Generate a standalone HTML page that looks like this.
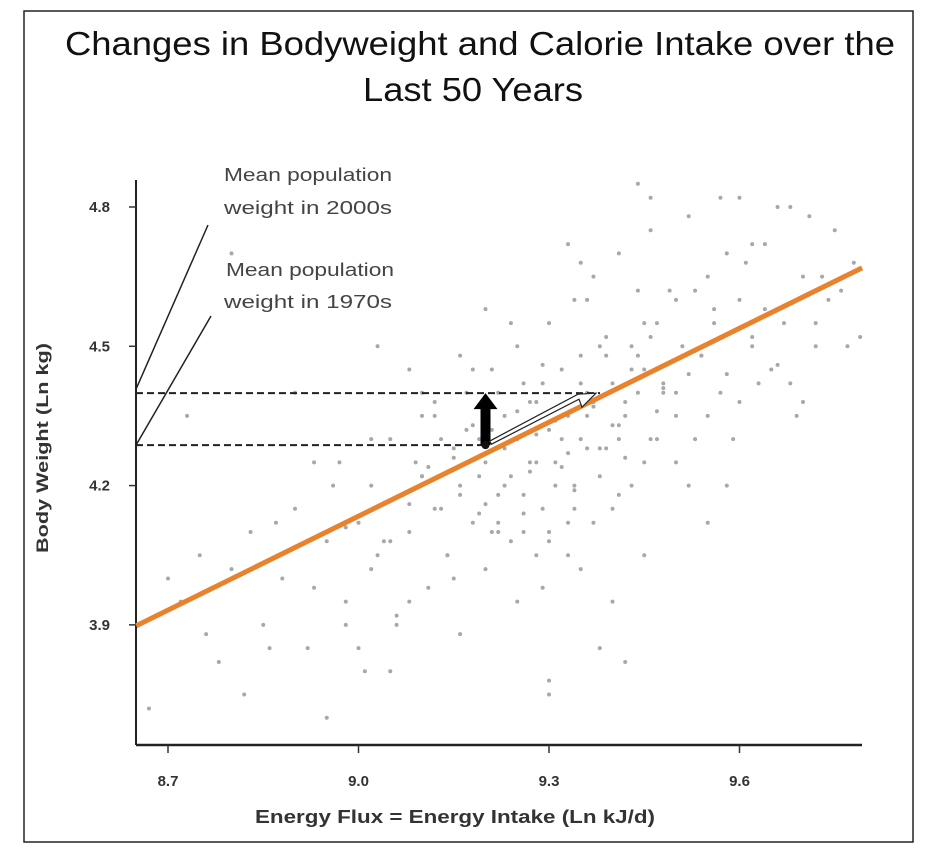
<!DOCTYPE html>
<html><head><meta charset="utf-8">
<style>
html,body{margin:0;padding:0;background:#fff;}
svg{display:block;}
text{font-family:"Liberation Sans",sans-serif;}
</style></head>
<body>
<svg id="chart" width="931" height="856" viewBox="0 0 931 856">
  <rect x="24" y="11" width="889" height="831" fill="#fff" stroke="#222" stroke-width="1.5"/>
  <text x="480" y="55" text-anchor="middle" font-size="33" textLength="830" lengthAdjust="spacingAndGlyphs" fill="#111">Changes in Bodyweight and Calorie Intake over the</text>
  <text x="473" y="101" text-anchor="middle" font-size="33" textLength="220" lengthAdjust="spacingAndGlyphs" fill="#111">Last 50 Years</text>
  <g id="points"></g>
  <g id="axes"></g>
  <g id="annot"></g>
</svg>
<script>
const xTicks = [8.7, 9.0, 9.3, 9.6];
const xTickLabels = ["8.7", "9.0", "9.3", "9.6"];
const yTicks = [3.9, 4.2, 4.5, 4.8];
const yTickLabels = ["3.9", "4.2", "4.5", "4.8"];
const fitLineX = [8.65, 9.793];
const fitLineY = [3.898, 4.669];
const weight1970 = 4.287;
const weight2000 = 4.399;
const intake1970 = 9.2;
const intake2000 = 9.374;
const pointsX = [8.67,8.72,8.75,8.78,8.8,8.83,8.85,8.88,8.9,8.92,8.95,8.97,8.98,9.0,9.01,9.02,9.03,9.05,9.06,9.07,9.08,9.1,9.11,9.12,9.13,9.14,9.15,9.16,9.17,9.18,9.19,9.2,9.2,9.21,9.22,9.23,9.24,9.25,9.25,9.26,9.27,9.28,9.29,9.3,9.3,9.31,9.32,9.33,9.34,9.35,9.35,9.36,9.37,9.38,9.39,9.4,9.41,9.42,9.43,9.44,9.45,9.46,9.47,9.48,9.5,9.51,9.52,9.54,9.55,9.56,9.58,9.6,9.62,9.64,9.66,9.68,9.7,9.72,9.75,9.78,8.7,8.76,8.82,8.87,8.93,8.96,9.0,9.04,9.08,9.09,9.12,9.15,9.17,9.19,9.21,9.23,9.26,9.28,9.31,9.33,9.36,9.38,9.41,9.43,9.45,9.48,9.5,9.53,9.57,9.61,9.65,9.69,9.74,9.79,8.9,8.95,9.02,9.06,9.1,9.14,9.18,9.22,9.24,9.27,9.29,9.32,9.34,9.37,9.39,9.42,9.44,9.47,9.49,9.52,9.56,9.59,9.63,9.67,9.71,9.76,9.05,9.1,9.16,9.2,9.25,9.3,9.35,9.4,9.46,9.53,9.58,9.62,9.3,9.35,9.4,9.44,9.5,9.55,9.6,9.7,9.28,9.33,9.36,9.26,9.21,9.16,9.12,9.08,9.03,8.98,8.93,8.86,8.8,8.73,9.45,9.52,9.57,9.66,9.73,9.77,9.24,9.3,9.38,9.42,9.15,9.18,9.22,9.25,9.27,9.29,9.31,9.33,9.35,9.37,9.39,9.41,9.43,9.46,9.48,9.2,9.23,9.26,9.28,9.32,9.34,9.36,9.4,9.44,9.47,9.1,9.13,9.16,9.19,9.22,9.05,9.08,9.11,9.02,8.98,9.5,9.54,9.58,9.62,9.66,9.55,9.6,9.64,9.68,9.72,9.3,9.34,9.38,9.42,9.46,9.29,9.33,9.37,9.41,9.45];
const pointsY = [3.72,3.95,4.05,3.82,4.02,4.1,3.9,4.0,4.15,3.85,4.08,4.25,3.95,4.12,3.8,4.2,4.05,4.3,3.92,4.18,4.1,4.22,3.98,4.35,4.15,4.05,4.28,4.2,4.4,4.12,4.3,4.25,4.02,4.45,4.18,4.35,4.22,4.3,4.5,4.1,4.38,4.25,4.42,4.32,4.55,4.2,4.45,4.35,4.6,4.3,4.48,4.4,4.65,4.28,4.52,4.42,4.7,4.38,4.5,4.62,4.45,4.75,4.55,4.4,4.6,4.5,4.78,4.48,4.65,4.55,4.7,4.6,4.5,4.72,4.58,4.8,4.65,4.55,4.75,4.68,4.0,3.88,3.75,4.12,3.98,4.2,3.85,4.08,3.95,4.25,4.15,4.0,4.32,4.22,4.1,4.28,4.18,4.38,4.25,4.12,4.35,4.5,4.3,4.2,4.55,4.42,4.35,4.62,4.4,4.68,4.45,4.35,4.6,4.52,4.4,3.7,4.3,3.9,4.35,4.05,4.45,4.12,4.08,4.25,4.15,4.3,4.2,4.38,4.28,4.35,4.48,4.3,4.62,4.44,4.58,4.3,4.42,4.55,4.78,4.62,3.8,4.4,3.88,4.58,3.95,3.75,4.68,4.15,4.82,4.3,4.2,4.72,4.1,4.02,3.95,4.85,4.25,4.12,4.82,4.38,4.05,4.72,4.6,4.42,4.32,4.48,4.38,4.45,4.5,3.9,4.25,3.85,4.7,4.35,4.05,4.2,4.82,4.8,4.65,4.5,4.55,3.78,3.85,3.82,4.26,4.33,4.4,4.36,4.23,4.46,4.34,4.27,4.42,4.37,4.48,4.33,4.45,4.52,4.41,4.16,4.2,4.14,4.31,4.24,4.19,4.28,4.33,4.4,4.36,4.22,4.3,4.18,4.14,4.1,4.08,4.16,4.24,4.02,4.11,4.4,4.48,4.44,4.52,4.46,4.35,4.38,4.58,4.42,4.5,4.08,4.15,4.22,4.26,4.3,3.98,4.05,4.12,4.18,4.25];

const svgNS = "http://www.w3.org/2000/svg";
const X0 = 136, X1 = 862, Y0 = 745, YTOP = 180;
function sx(v){ return 168 + (v - 8.7) * 635; }
function sy(v){ return 207 + (4.8 - v) * 464.3; }
function mk(tag, attrs, parent){
  const e = document.createElementNS(svgNS, tag);
  for (const k in attrs) e.setAttribute(k, attrs[k]);
  parent.appendChild(e);
  return e;
}
const gp = document.getElementById('points');
const ga = document.getElementById('axes');
const gn = document.getElementById('annot');

for (let i = 0; i < pointsX.length; i++) {
  const c = mk('circle', {cx: sx(pointsX[i]), cy: sy(pointsY[i]), r: 2, fill: '#a8a8a8'}, gp);
  
  
}

let a = mk('line', {x1: X0, y1: YTOP, x2: X0, y2: Y0, stroke: '#222', 'stroke-width': 2}, ga);


a = mk('line', {x1: X0, y1: Y0, x2: X1, y2: Y0, stroke: '#222', 'stroke-width': 2.5}, ga);


xTicks.forEach((t, i) => {
  const x = sx(t);
  const l = mk('line', {x1: x, y1: Y0, x2: x, y2: Y0 + 8, stroke: '#333', 'stroke-width': 1.5}, ga);
  
  
  const tx = mk('text', {x: x, y: 786, 'text-anchor': 'middle', 'font-size': 15, 'font-weight': 'bold', fill: '#333'}, ga);
  
  
  tx.textContent = xTickLabels[i];
});
yTicks.forEach((t, i) => {
  const y = sy(t);
  const l = mk('line', {x1: X0 - 7, y1: y, x2: X0, y2: y, stroke: '#333', 'stroke-width': 1.5}, ga);
  
  
  const tx = mk('text', {x: 110, y: y + 5, 'text-anchor': 'end', 'font-size': 15, 'font-weight': 'bold', fill: '#333'}, ga);
  
  
  tx.textContent = yTickLabels[i];
});
let xt = mk('text', {x: 455, y: 823, 'text-anchor': 'middle', 'font-size': 18, 'font-weight': 'bold', fill: '#333', textLength: 400, lengthAdjust: 'spacingAndGlyphs'}, ga);


xt.textContent = 'Energy Flux = Energy Intake (Ln kJ/d)';
let yt = mk('text', {x: 0, y: 0, 'text-anchor': 'middle', 'font-size': 17, 'font-weight': 'bold', fill: '#333', textLength: 210, lengthAdjust: 'spacingAndGlyphs', transform: 'translate(48,448) rotate(-90)'}, ga);


yt.textContent = 'Body Weight (Ln kg)';

let fl = mk('line', {x1: sx(fitLineX[0]), y1: sy(fitLineY[0]), x2: sx(fitLineX[1]), y2: sy(fitLineY[1]), stroke: '#e8822d', 'stroke-width': 5}, gn);



const y70 = sy(weight1970), y00 = sy(weight2000);
let d = mk('line', {x1: X0, y1: y00, x2: sx(intake2000) + 4, y2: y00, stroke: '#222', 'stroke-width': 2, 'stroke-dasharray': '7,4'}, gn);


d = mk('line', {x1: X0, y1: y70, x2: sx(intake1970) + 2, y2: y70, stroke: '#222', 'stroke-width': 2, 'stroke-dasharray': '7,4'}, gn);



let ll = mk('line', {x1: X0, y1: y00 - 4, x2: 208, y2: 225, stroke: '#222', 'stroke-width': 1.5}, gn);


ll = mk('line', {x1: X0, y1: y70, x2: 211, y2: 316, stroke: '#222', 'stroke-width': 1.5}, gn);



const labs = [['Mean population', 224, 181], ['weight in 2000s', 224, 214], ['Mean population', 226, 276], ['weight in 1970s', 224, 308]];
labs.forEach(l => {
  const t = mk('text', {x: l[1], y: l[2], 'font-size': 18, fill: '#444', textLength: 168, lengthAdjust: 'spacingAndGlyphs'}, gn);
  
  
  t.textContent = l[0];
});

const ax = sx(intake1970);
let ar = mk('polygon', {points: `${ax-5},${y70} ${ax+5},${y70} ${ax+5},${y00+16} ${ax+12},${y00+16} ${ax},${y00} ${ax-12},${y00+16} ${ax-5},${y00+16}`, fill: '#000'}, gn);


let dot = mk('circle', {cx: ax, cy: y70, r: 4, fill: '#111'}, gn);



const hx1 = ax + 4, hy1 = y70 - 4, hx2 = sx(intake2000), hy2 = y00;
let ha = mk('polygon', {points: `${hx1},${hy1} ${hx2-18},${hy2+1} ${hx2},${hy2} ${hx2-14},${hy2+14} ${hx2-17},${hy2+6} ${hx1+2},${hy1+3}`, fill: '#fff', stroke: '#222', 'stroke-width': 1.2}, gn);


</script>
</body></html>
